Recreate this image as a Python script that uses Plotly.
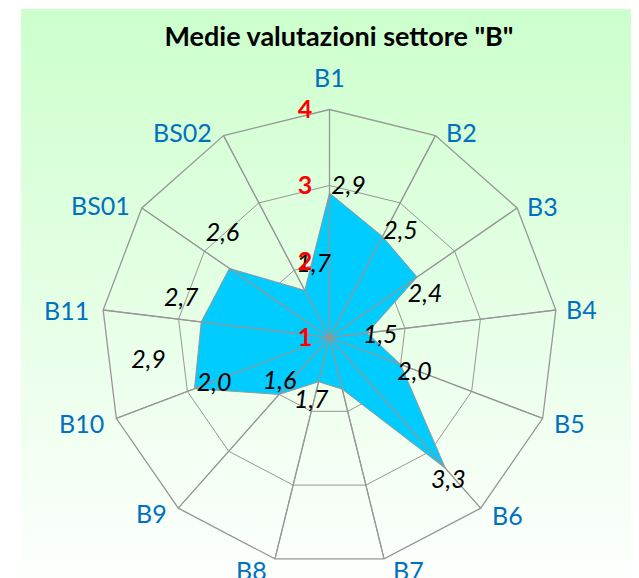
import math
import base64
import plotly.graph_objects as go

# ---------------- data ----------------
TITLE = 'Medie valutazioni settore "B"'
categories = ["B1", "B2", "B3", "B4", "B5", "B6", "B7", "B8", "B9", "B10", "B11", "BS01", "BS02"]
values = [2.9, 2.5, 2.4, 1.5, 2.0, 3.3, 1.7, 1.6, 2.0, 2.9, 2.7, 2.6, 1.7]
radial_ticks = [1, 2, 3, 4]

# ---------------- style / layout constants ----------------
PAGE_PAD = 8                    # default body margin of the html page
W, H = 639 - PAGE_PAD, 578 - PAGE_PAD
CX, CY = 329.5 - PAGE_PAD, 337.5 - PAGE_PAD   # centre of the radar (px, figure coords)
R_PX = 228                      # outer radius (px)
R_MIN, R_MAX = 1, 4
FONT = "Lato, 'Open Sans', sans-serif"
GRID = "#969696"
FILL = "#00CCFF"
CAT_COLOR = "#0070C0"

# pixel nudges of the text labels relative to their anchor points (dx, dy; y down)
VALUE_LABEL_SHIFT = [(19, -5), (18, -4), (8, 19), (13, 4), (14, 9), (3, 13), (-31, 13),
                     (-39, 1), (-65, -10), (-46, -27), (-20, -22), (-7, -34), (9, -25)]
CAT_LABEL_SHIFT = [(0, -33), (26, -4), (25, -2), (26, -1), (27, 5), (27, 7), (24, 11),
                   (-23, 11), (-27, 5), (-35, 5), (-37, 0), (-41, -3), (-41, -4)]

n = len(categories)
step = 360.0 / n
angles = [i * step for i in range(n)]


def to_px(r, ang):
    rho = (r - R_MIN) / (R_MAX - R_MIN) * R_PX
    return rho * math.sin(math.radians(ang)), -rho * math.cos(math.radians(ang))


def shifted(r, ang, dx, dy):
    """Move a polar point (r, angle) by a pixel offset; return new (r, angle)."""
    x, y = to_px(r, ang)
    x += dx
    y += dy
    return (R_MIN + math.hypot(x, y) / R_PX * (R_MAX - R_MIN),
            math.degrees(math.atan2(x, -y)) % 360)


domain = dict(x=[(CX - R_PX) / W, (CX + R_PX) / W],
              y=[1 - (CY + R_PX) / H, 1 - (CY - R_PX) / H])

fig = go.Figure()

# filled series
fig.add_trace(go.Scatterpolar(
    r=values + [values[0]], theta=categories + [categories[0]],
    mode="lines", fill="toself", fillcolor=FILL,
    line=dict(color=GRID, width=1), hoverinfo="skip", subplot="polar"))

# category spokes drawn above the fill
sp_r, sp_t = [], []
for c in categories:
    sp_r += [R_MIN, R_MAX, None]
    sp_t += [c, c, None]
fig.add_trace(go.Scatterpolar(
    r=sp_r, theta=sp_t, mode="lines", line=dict(color=GRID, width=1.3),
    hoverinfo="skip", subplot="polar", connectgaps=False))

# value labels
lab = [shifted(v, a, dx, dy) for v, a, (dx, dy) in zip(values, angles, VALUE_LABEL_SHIFT)]
fig.add_trace(go.Scatterpolar(
    r=[p[0] for p in lab], theta=[p[1] for p in lab],
    mode="text", text=[f"{v:.1f}".replace(".", ",") for v in values],
    textposition="middle center", cliponaxis=False,
    textfont=dict(family=FONT, size=25, color="black", style="italic"),
    hoverinfo="skip", subplot="polar2"))

# category labels (outside the outer ring)
annotations = []
for c, a, (dx, dy) in zip(categories, angles, CAT_LABEL_SHIFT):
    x, y = to_px(R_MAX, a)
    annotations.append(dict(
        text=c, xref="paper", yref="paper",
        x=(CX + x + dx) / W, y=1 - (CY + y + dy) / H,
        xanchor="center", yanchor="middle", showarrow=False,
        font=dict(family=FONT, size=25, color=CAT_COLOR)))

# gradient background
BG_X0, BG_Y0 = 21 - PAGE_PAD, 9 - PAGE_PAD
svg = ('<svg xmlns="http://www.w3.org/2000/svg" width="618" height="569" preserveAspectRatio="none">'
       '<defs><linearGradient id="g" x1="0" y1="0" x2="0" y2="1">'
       '<stop offset="0" stop-color="#CCFFCC"/><stop offset="1" stop-color="#FDFFFD"/>'
       '</linearGradient></defs><rect width="100%" height="100%" fill="url(#g)"/></svg>')
src = "data:image/svg+xml;base64," + base64.b64encode(svg.encode()).decode()

fig.update_layout(
    width=W, height=H,
    margin=dict(l=0, r=0, t=0, b=0),
    paper_bgcolor="white", plot_bgcolor="white",
    showlegend=False,
    annotations=annotations,
    images=[dict(source=src, xref="paper", yref="paper", x=BG_X0 / W, y=1 - BG_Y0 / H,
                 sizex=(W - BG_X0) / W, sizey=(H - BG_Y0) / H, xanchor="left", yanchor="top",
                 sizing="stretch", layer="below")],
    title=dict(text=TITLE, x=(339 - PAGE_PAD) / W, y=1 - (37 - PAGE_PAD) / H,
               xanchor="center", yanchor="middle",
               font=dict(family=FONT, size=27, weight="bold", color="black")),
    polar=dict(
        domain=domain, bgcolor="rgba(0,0,0,0)", gridshape="linear",
        radialaxis=dict(range=[R_MIN, R_MAX], tickvals=radial_ticks, showticklabels=False,
                        showline=False, ticks="", gridcolor=GRID, gridwidth=1.3),
        angularaxis=dict(type="category", categoryarray=categories, rotation=90,
                         direction="clockwise", showticklabels=False, ticks="",
                         gridcolor=GRID, gridwidth=1.3, showline=True, linecolor=GRID,
                         linewidth=1.3),
    ),
    polar2=dict(
        domain=domain, bgcolor="rgba(0,0,0,0)",
        radialaxis=dict(range=[R_MIN, R_MAX], tickvals=radial_ticks, showgrid=False,
                        showline=False, angle=90, side="counterclockwise", tickangle=90,
                        ticks="outside", ticklen=8, tickcolor="rgba(0,0,0,0)",
                        tickfont=dict(family=FONT, size=25, color="#FF0000", weight="bold")),
        angularaxis=dict(type="linear", rotation=90, direction="clockwise",
                         thetaunit="degrees", showgrid=False, showline=False,
                         showticklabels=False, ticks=""),
    ),
)

fig.write_html("out.html")
